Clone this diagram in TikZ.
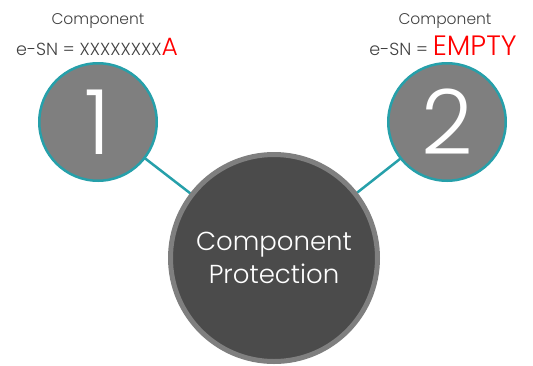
\documentclass[tikz,border=0pt]{standalone}
\usepackage{fontspec}
\usetikzlibrary{backgrounds}
\IfFontExistsTF{Poppins Light}{\setmainfont{Poppins Light}}{\setmainfont{Poppins}}
\definecolor{teal2}{RGB}{38,160,170}
\definecolor{midgray}{RGB}{127,127,127}
\definecolor{darkfill}{RGB}{75,75,75}
\definecolor{labelgray}{RGB}{64,64,64}
\definecolor{redtxt}{RGB}{255,0,0}
\tikzset{
  numcircle/.style={circle, draw=teal2, fill=midgray, line width=2.5pt, minimum size=117.5pt, inner sep=0pt, text=white, font=\fontsize{90}{90}\selectfont},
  bigcircle/.style={circle, draw=midgray, fill=darkfill, line width=5pt, minimum size=207pt, inner sep=0pt, text=white, align=center, font=\fontsize{26}{33}\selectfont},
  link/.style={draw=teal2, line width=2.5pt},
  lbl/.style={text=labelgray, inner sep=0pt, font=\fontsize{15.5}{18}\selectfont},
  snlbl/.style={text=labelgray, inner sep=0pt, font=\fontsize{17.5}{20}\selectfont}
}
\begin{document}
\begin{tikzpicture}[x=1pt,y=-1pt]
\useasboundingbox (0,0) rectangle (533,365);
\node[bigcircle] (big) at (274,258) {Component\\Protection};
\node[numcircle] (c1) at (98,122) {1};
\node[numcircle] (c2) at (447,122) {2};
\begin{pgfonlayer}{background}
\draw[link] (c1.center) -- (big.center);
\draw[link] (c2.center) -- (big.center);
\end{pgfonlayer}
\node[lbl, anchor=base] (t1) at (98,24) {Component};
\node[snlbl, anchor=base] (s1) at (97,55) {e-SN = XXXXXXXX\textcolor{redtxt}{\fontsize{25}{25}\selectfont A}};
\node[lbl, anchor=base] (t2) at (445,24) {Component};
\node[snlbl, anchor=base] (s2) at (443,55) {e-SN = \textcolor{redtxt}{\fontsize{28}{28}\selectfont EMPTY}};
\end{tikzpicture}
\end{document}
